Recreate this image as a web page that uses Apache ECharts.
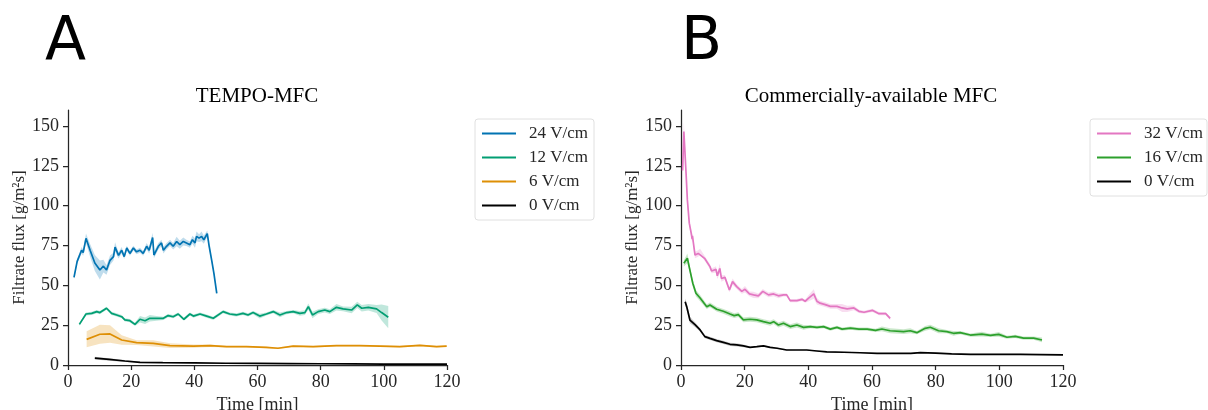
<!DOCTYPE html>
<html>
<head>
<meta charset="utf-8">
<script src="https://cdn.jsdelivr.net/npm/echarts@6/dist/echarts.min.js"></script>
<style>
  html, body { margin: 0; padding: 0; background: #fff; }
  #chart { width: 1208px; height: 410px; }
</style>
</head>
<body>
<div id="chart"></div>
<script>
// Filtrate flux over time, each point is [time (min), mean flux (g/m²s), spread (half band width)]
const xTicks = [0, 20, 40, 60, 80, 100, 120];
const yTicks = [0, 25, 50, 75, 100, 125, 150];

const panelTitles = ['TEMPO-MFC', 'Commercially-available MFC'];
const panelLetters = ['A', 'B'];

// Panel A: TEMPO-MFC
const tempo24 = [[1.9,55,1],[2.9,65,1.5],[4.3,72,2],[4.8,70.5,2],[5.7,79.5,3],[7.0,72,4],[8.5,64,5],[10.1,59.6,6],[11.2,62,4],[12.2,59.6,3],[13.3,65.7,3],[14.4,68,2.5],[14.9,74,3],[16,68.8,2],[17,72,2],[17.8,68,1.5],[18.6,73.4,1.5],[19.6,70,1.5],[20.7,73.4,1.5],[21.7,71,1.5],[22.8,72,1.5],[23.8,70,1.5],[24.9,74.5,2],[25.7,72,2],[26.8,80,3],[27.2,69,2],[28.6,74.5,2],[29.6,76.6,2],[30.2,72,2],[31.2,74.5,2],[32.3,76.6,2],[33.3,74.5,2],[34.4,77.5,3],[35.4,75.5,2.5],[36.5,77.5,2.5],[37.5,76.6,2],[38.6,75.5,2],[39.4,78.6,2.5],[40.2,76.6,3],[40.7,80.7,3],[41.5,79.6,2.5],[42.3,80.7,3],[43,78.6,2.5],[44.1,82.4,2],[44.7,74.5,1.5],[45.5,65.7,1],[46.2,57.5,1],[47.1,45,0.5]];
const tempo12 = [[3.6,25.5,0.8],[5.7,32,1],[7.5,32.4,1],[9.1,33.5,1],[10.1,32.9,1],[12.2,35.6,1],[13.8,32.4,1],[15.4,31.4,1],[17,30.3,1],[18,28.3,1],[19.6,27.8,1],[21.2,25.5,1],[22.8,28.7,2],[24.4,27.8,2],[25.9,29.3,2],[28,29.3,1.5],[30.2,29.3,1],[31.7,31,1],[33.3,30.3,1],[34.9,32,1],[36.7,28.7,1],[38.6,32,1],[39.7,30.7,1],[41.8,32,1],[43.9,30.7,1],[46,29.3,1],[49.1,33.5,1],[51.2,32,1],[53.3,31.4,1],[55.4,32.4,1],[57,31.4,1],[58.6,32.9,1],[60.7,30.7,1.5],[62.8,32,1],[65,33.5,1],[67.1,31.4,1.5],[69.2,32.9,1],[71.3,33.5,1],[73.4,32.4,1.5],[75,32.9,1.5],[76.1,36.6,2],[77.4,31.4,2],[79.2,33.5,1.5],[81.3,34.5,1.5],[82.9,33.5,1.5],[85,36.2,2],[87.1,35.2,1.5],[89.8,34.5,2],[91.6,37.7,2],[93,35.6,2],[95.1,36.2,2],[97.7,35.2,2.5],[99.3,32.9,5],[101.4,30,7]];
const tempo6 = [[5.9,16.1,5],[10.1,19.3,6],[13.3,19.5,5.5],[17,15.7,3],[21.7,14,1.5],[27,13.6,2],[32.3,12.1,1.5],[39.7,11.9,1],[45,12.1,0.8],[50.2,11.5,0.5],[56.5,11.5,0.5],[62.8,11,0.5],[66.5,10.5,0.5],[71.3,11.9,0.5],[77.6,11.5,0.5],[85,12.1,0.5],[92.4,12.1,0.5],[98.7,11.9,0.5],[105,11.5,0.5],[111.4,12.3,0.5],[116.7,11.5,0.5],[119.9,11.9,0.5]];
const tempo0 = [[8.5,4.3,0.8],[13,3.5,0.8],[18,2.5,0.6],[22.8,1.7,0.3],[30,1.5,0.2],[40,1.3,0.2],[50,1.1,0.2],[60,1,0.2],[70,0.9,0.1],[80,0.8,0.1],[90,0.7,0.1],[100,0.6,0.1],[110,0.5,0.1],[120,0.5,0.1]];

// Panel B: commercially-available MFC
const comm32 = [[0.5,122,8],[0.9,146.5,6],[1.6,120,4],[2,103.6,3],[2.6,89,2],[3.2,82.7,2],[3.5,79,2],[3.6,81,2],[4.4,69,2],[5.4,70,2],[6,71,2],[7.5,66.7,1.5],[9.1,61.7,1.5],[9.6,59,1.5],[11,60,2],[11.4,56,2],[12.2,60.6,3],[12.7,54.3,2],[13.8,55,1.5],[15.2,47.1,1.5],[16.2,52.3,2],[17.5,49.2,1.5],[19.1,46.2,1.5],[20.1,47.5,2],[21.5,44.6,1.5],[22.8,44,2],[24.3,43.4,1.5],[25.7,46.2,1.5],[27.5,44,1.5],[29.1,44.6,1.5],[30.6,43.4,1.5],[32.2,44,1],[33.2,44,1],[34.3,40.4,1],[36.4,40.4,1],[38,41.2,1],[39,40,1],[40.1,42,2],[41.7,44.6,3],[42.7,40,2],[43.7,38.8,1.5],[45.3,37.9,1.5],[46.9,36.8,1.5],[49,36.8,1.5],[50.6,35.8,2.5],[52.2,35.2,2],[54.3,35.8,1.5],[55.9,33.7,1],[57.5,33.1,1],[60.1,34.3,1],[62.2,32.2,1],[64.3,32.2,1],[65.7,29.3,1]];
const comm16 = [[0.9,63.8,2],[2,67,3],[2.8,59.5,2],[3.7,51.3,2],[4.7,45,2],[6,42,2],[8.1,36.6,1.5],[9.1,37.7,1.5],[11.2,35,1.5],[13.3,33.7,1.5],[15.4,32,1.5],[16.7,31,1.5],[18,31.6,1.5],[19.6,28.3,1.5],[21.7,28.7,1.5],[23.8,28.3,1.5],[25.9,27.2,1.5],[28,26.2,1.5],[29.1,27.2,1.5],[30.6,25.1,1.5],[32.2,26.2,1.5],[34.3,24.1,1.5],[36.4,25.1,1.5],[38.5,23.6,1.5],[40.6,24.1,1],[42.7,23.6,1],[44.8,24.1,1],[46.9,22.5,1],[49,23.6,1],[50.6,22.5,1],[53.2,23.1,1],[55.9,22.5,1],[58.5,22.5,1],[61.1,21.7,1],[63.1,22.6,1.5],[65.7,21.5,1.5],[69.9,20.9,1.5],[72,21.5,1.5],[74.1,20.3,1],[76.7,23,1.5],[78.3,23.7,1.5],[80.9,21.5,1.5],[83.5,20.9,1],[85.6,19.9,1.5],[87.7,20.3,1],[90.9,18.8,1],[94.5,19.4,1.5],[97.2,18.6,1],[99.8,19.2,1.5],[102.4,17.4,1],[105,18,1],[107.6,16.9,1],[110.8,16.9,1],[113.4,15.7,1.5]];
const comm0 = [[1.3,39.7,2],[1.8,36.6,2.5],[2.8,28.2,2],[4.4,25.3,1.5],[6,22,1],[7.5,17.8,1],[9.1,16.7,1],[11.2,15.3,1],[13.3,14.2,1],[15.4,13,1],[17.5,12.6,1],[19.6,12,0.8],[21.7,11.1,0.5],[23.8,11.5,0.5],[25.9,12,0.5],[28,11.1,0.5],[30.2,10.5,0.5],[33.2,9.4,0.5],[36.4,9.4,0.3],[39.5,9.4,0.3],[42.7,8.8,0.3],[45.8,8.2,0.3],[51.1,8,0.3],[56.3,7.7,0.3],[61.6,7.3,0.3],[66.9,7.3,0.3],[72.2,7.3,0.3],[75.2,7.8,0.3],[80,7.5,0.3],[85,7,0.3],[90.9,6.7,0.3],[98,6.7,0.3],[106.6,6.7,0.3],[113,6.5,0.3],[120,6.3,0.3]];

const seriesA = [
  { name: '24 V/cm', data: tempo24, color: '#0173b2' },
  { name: '12 V/cm', data: tempo12, color: '#029e73' },
  { name: '6 V/cm',  data: tempo6,  color: '#de8f05' },
  { name: '0 V/cm',  data: tempo0,  color: '#000000' }
];
const seriesB = [
  { name: '32 V/cm', data: comm32, color: '#e377c2' },
  { name: '16 V/cm', data: comm16, color: '#2ca02c' },
  { name: '0 V/cm ', data: comm0,  color: '#000000' }
];

const SERIF = 'Liberation Serif';
const INK = '#262626';

// Shaded spread band drawn as one polygon through the axis scales
function bandSeries(def, gridIdx) {
  return {
    type: 'custom',
    name: def.name + ' band',
    xAxisIndex: gridIdx,
    yAxisIndex: gridIdx,
    silent: true,
    z: 1,
    data: [[def.data[0][0], def.data[0][1]]],
    renderItem: function (params, api) {
      const upper = def.data.map(p => api.coord([p[0], p[1] + p[2]]));
      const lower = def.data.map(p => api.coord([p[0], Math.max(0, p[1] - p[2])])).reverse();
      return {
        type: 'polygon',
        shape: { points: upper.concat(lower) },
        style: { fill: def.color, opacity: def.color === '#000000' ? 0.2 : 0.25 }
      };
    }
  };
}

function lineSeries(def, gridIdx) {
  return {
    type: 'line',
    name: def.name,
    xAxisIndex: gridIdx,
    yAxisIndex: gridIdx,
    data: def.data.map(p => [p[0], p[1]]),
    showSymbol: false,
    symbol: 'none',
    z: 3,
    lineStyle: { color: def.color, width: 1.7 },
    itemStyle: { color: def.color },
    emphasis: { disabled: true },
    animation: false
  };
}

function xAxis(gridIdx) {
  return {
    type: 'value', gridIndex: gridIdx, min: 0, max: 120, interval: 20,
    name: 'Time [min]', nameLocation: 'middle', nameGap: 29,
    nameTextStyle: { fontFamily: SERIF, fontSize: 18, color: INK },
    axisLine: { show: true, lineStyle: { color: INK, width: 1.25 } },
    axisTick: { show: true, length: 5, lineStyle: { color: INK, width: 1.25 }, customValues: xTicks },
    axisLabel: { fontFamily: SERIF, fontSize: 18, color: INK, margin: 8, customValues: xTicks },
    splitLine: { show: false }
  };
}
function yAxis(gridIdx) {
  return {
    type: 'value', gridIndex: gridIdx, min: 0, max: 160,
    name: 'Filtrate flux [g/m²s]', nameLocation: 'middle', nameGap: 39,
    nameTextStyle: { fontFamily: SERIF, fontSize: 17, color: INK },
    axisLine: { show: true, lineStyle: { color: INK, width: 1.25 } },
    axisTick: { show: true, length: 5, lineStyle: { color: INK, width: 1.25 }, customValues: yTicks },
    axisLabel: { fontFamily: SERIF, fontSize: 18, color: INK, margin: 9, customValues: yTicks },
    splitLine: { show: false }
  };
}

function legend(defs, left, top, padRight) {
  return {
    data: defs.map(d => d.name),
    orient: 'vertical',
    left: left, top: top,
    icon: 'rect',
    itemWidth: 34, itemHeight: 2,
    itemGap: 7,
    padding: [6, padRight, 6, 7],
    backgroundColor: '#fff',
    borderColor: '#e0e0e0', borderWidth: 1, borderRadius: 3,
    selectedMode: false,
    textStyle: { fontFamily: SERIF, fontSize: 17, color: INK, padding: [0, 0, 0, 8] }
  };
}

const chart = echarts.init(document.getElementById('chart'), null, { renderer: 'canvas' });
chart.setOption({
  animation: false,
  backgroundColor: '#fff',
  grid: [
    { left: 68, top: 110, width: 379, height: 255, outerBoundsMode: 'none' },
    { left: 681, top: 110, width: 382, height: 255, outerBoundsMode: 'none' }
  ],
  title: [
    { text: panelTitles[0], left: 257, top: 86, textAlign: 'center', padding: 0,
      textStyle: { fontFamily: SERIF, fontSize: 21, fontWeight: 'normal', color: '#000' } },
    { text: panelTitles[1], left: 871, top: 86, textAlign: 'center', padding: 0,
      textStyle: { fontFamily: SERIF, fontSize: 21, fontWeight: 'normal', color: '#000' } }
  ],
  graphic: [
    { type: 'text', left: 45, top: 13, style: { text: panelLetters[0], font: '60px "DejaVu Sans"', fill: '#000' } },
    { type: 'text', left: 681, top: 13, style: { text: panelLetters[1], font: '60px "DejaVu Sans"', fill: '#000' } }
  ],
  legend: [legend(seriesA, 475, 119, 6), legend(seriesB, 1090, 119, 4)],
  xAxis: [xAxis(0), xAxis(1)],
  yAxis: [yAxis(0), yAxis(1)],
  series: [
    ...seriesA.map(d => bandSeries(d, 0)),
    ...seriesB.map(d => bandSeries(d, 1)),
    ...seriesA.map(d => lineSeries(d, 0)),
    ...seriesB.map(d => lineSeries(d, 1))
  ]
});
</script>
</body>
</html>
